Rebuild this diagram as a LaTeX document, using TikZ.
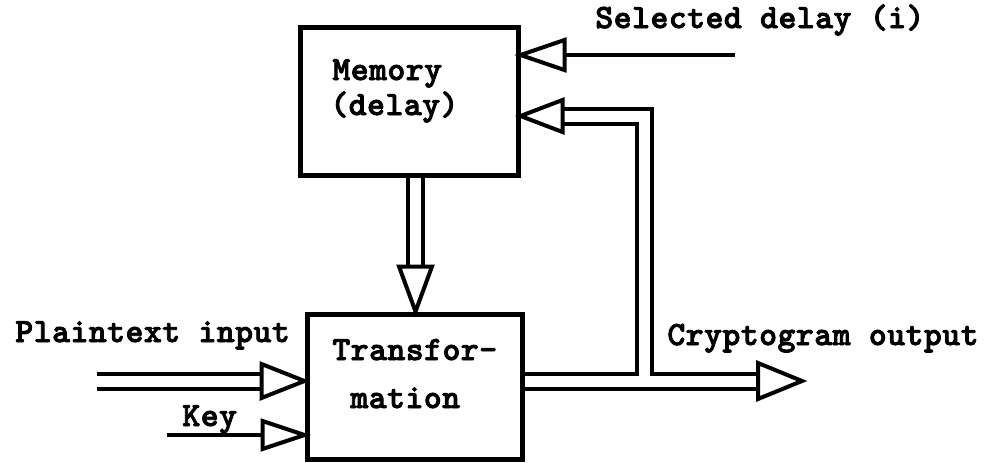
\documentclass[tikz,border=0pt]{standalone}
\usepackage{fontspec}
\newfontfamily\typer{lmmonolt10-bold.otf}[LetterSpace=1.5, FakeBold=2.5]
\usetikzlibrary{calc}
\begin{document}
\begin{tikzpicture}[x=0.5pt,y=-0.5pt,
  box/.style={draw, line width=2.5pt, inner sep=0pt},
  lbl/.style={anchor=base west, inner sep=0pt,
    font=\typer\fontsize{17pt}{20pt}\selectfont},
  wire/.style={line width=2pt},
  dblout/.style={line width=9.5pt, line cap=butt, line join=miter},
  dblin/.style={white, line width=5.5pt, line cap=butt, line join=miter},
  head/.style={draw, fill=white, line width=2pt, line join=miter}]
\useasboundingbox (0,0) rectangle (998,462);

% blocks
\node[box, minimum width=109pt, minimum height=74pt] (mem) at (409,101) {};
\node[box, minimum width=107.5pt, minimum height=72.5pt] (trans) at (414.5,386.5) {};

% texts
\node[lbl] (tmem1) at (332,80) {Memory};
\node[lbl] (tmem2) at (330,115) {(delay)};
\node[lbl] (ttr1) at (332,360) {Transfor-};
\node[lbl] (ttr2) at (350,408) {mation};
\node[lbl] (tsel) at (595,28) {Selected delay (i)};
\node[lbl] (tpt) at (15,342) {Plaintext input};
\node[lbl] (tkey) at (182,426) {Key};
\node[lbl] (tout) at (667,345) {Cryptogram output};

% reference points
\coordinate (selsrc) at (735,55);
\coordinate (seltip) at (mem.east |- selsrc);
\coordinate (fbrow) at (0,116);
\coordinate (fbtip) at (mem.east |- fbrow);
\coordinate (junc) at (644,381);
\coordinate (outtip) at (802,381);
\coordinate (dncol) at (415.5,0);
\coordinate (dntip) at (dncol |- trans.north);
\coordinate (ptsrc) at (97,381);
\coordinate (pttip) at (trans.west |- ptsrc);
\coordinate (keysrc) at (167,435);
\coordinate (keytip) at (trans.west |- keysrc);

% double connectors: black body first, then the white core
\foreach \s in {dblout, dblin} {
  \draw[\s] (trans.east |- junc) -- ($(outtip)+(-41,0)$);
  \draw[\s] (junc) -- (junc |- fbrow) -- ($(fbtip)+(41,0)$);
  \draw[\s] (mem.south -| dncol) -- ($(dntip)+(0,-41)$);
  \draw[\s] (ptsrc) -- ($(pttip)+(-40,0)$);
}

% single connectors
\draw[wire] (selsrc) -- ($(seltip)+(42,0)$);
\draw[wire] (keysrc) -- ($(keytip)+(-40,0)$);

% open arrowheads
\draw[head] (seltip) -- ++(44,-15) -- ++(0,30) -- cycle;
\draw[head] (fbtip) -- ++(42,-16) -- ++(0,32) -- cycle;
\draw[head] (outtip) -- ++(-44,-18) -- ++(0,36) -- cycle;
\draw[head] (dntip) -- ++(-16.5,-45) -- ++(33,0) -- cycle;
\draw[head] (pttip) -- ++(-43,-17) -- ++(0,34) -- cycle;
\draw[head] (keytip) -- ++(-42,-14) -- ++(0,28) -- cycle;
\end{tikzpicture}
\end{document}
